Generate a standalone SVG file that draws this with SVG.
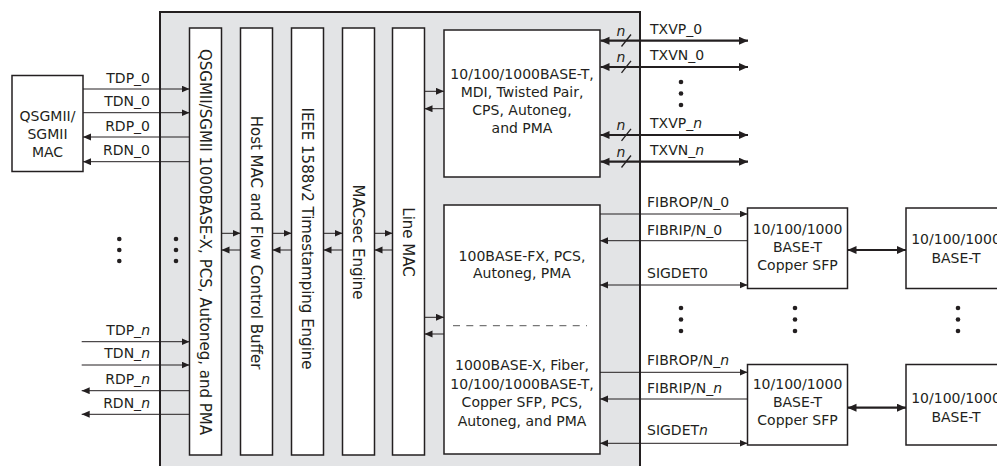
<svg xmlns="http://www.w3.org/2000/svg" width="997" height="466" viewBox="0 0 997 466">
<style>
text{font-family:"DejaVu Sans","Verdana",sans-serif;fill:#231f20;}
.t{font-size:14px;}
.c{font-size:14px;text-anchor:middle;}
.r{font-size:14px;text-anchor:end;}
.v{font-size:15px;text-anchor:middle;}
.box{fill:#fff;stroke:#231f20;stroke-width:1.5;}
.ln{fill:none;stroke:#231f20;stroke-width:1;}
.thk{fill:none;stroke:#231f20;stroke-width:2.2;}
.sl{fill:none;stroke:#231f20;stroke-width:1.3;}
.dot{fill:#231f20;}
.i{font-style:italic;}
</style>
<defs>
<marker id="a" markerUnits="userSpaceOnUse" markerWidth="9" markerHeight="8" refX="8" refY="3.5" orient="auto-start-reverse" viewBox="0 0 9 8">
<path d="M0,0 L8,3.5 L0,7 z" fill="#231f20"/>
</marker>
<marker id="b" markerUnits="userSpaceOnUse" markerWidth="10" markerHeight="9" refX="9" refY="4" orient="auto-start-reverse" viewBox="0 0 10 9">
<path d="M0,0 L9,4 L0,8 z" fill="#231f20"/>
</marker>
</defs>

<g id="phy-chip">
<rect x="160" y="12" width="480" height="470" fill="#e3e4e6" stroke="#231f20" stroke-width="2"/>
</g>

<g id="mac">
<rect class="box" x="12" y="75.5" width="71" height="96"/>
<text class="c" x="47.5" y="121">QSGMII/</text>
<text class="c" x="47.5" y="139">SGMII</text>
<text class="c" x="47.5" y="157">MAC</text>
</g>

<g id="serdes">
<rect class="box" x="189.5" y="28" width="32" height="427"/>
<text class="v" transform="translate(205.5,242) rotate(90)" x="0" y="5.4">QSGMII/SGMII 1000BASE-X, PCS, Autoneg, and PMA</text>
</g>
<g id="hostmac">
<rect class="box" x="240.5" y="28" width="32" height="427"/>
<text class="v" transform="translate(256.5,242.5) rotate(90)" x="0" y="5.4">Host MAC and Flow Control Buffer</text>
</g>
<g id="ieee1588">
<rect class="box" x="291.5" y="28" width="32" height="427"/>
<text class="v" transform="translate(307.5,238.5) rotate(90)" x="0" y="5.4">IEEE 1588v2 Timestamping Engine</text>
</g>
<g id="macsec">
<rect class="box" x="342.5" y="28" width="32" height="427"/>
<text class="v" transform="translate(358.5,242) rotate(90)" x="0" y="5.4">MACsec Engine</text>
</g>
<g id="linemac">
<rect class="box" x="392.5" y="28" width="32" height="427"/>
<text class="v" transform="translate(408.5,242) rotate(90)" x="0" y="5.4">Line MAC</text>
</g>

<g id="copper-phy">
<rect class="box" x="444" y="30" width="156" height="147"/>
<text class="c" x="522" y="79">10/100/1000BASE-T,</text>
<text class="c" x="522" y="97">MDI, Twisted Pair,</text>
<text class="c" x="522" y="115">CPS, Autoneg,</text>
<text class="c" x="522" y="133">and PMA</text>
</g>

<g id="fiber-phy">
<rect class="box" x="444" y="205" width="156" height="249"/>
<text class="c" x="522" y="261">100BASE-FX, PCS,</text>
<text class="c" x="522" y="278">Autoneg, PMA</text>
<line x1="453" y1="325.7" x2="587" y2="325.7" stroke="#777" stroke-width="1.2" stroke-dasharray="7,6.3"/>
<text class="c" x="522" y="370">1000BASE-X, Fiber,</text>
<text class="c" x="522" y="388.7">10/100/1000BASE-T,</text>
<text class="c" x="522" y="407.3">Copper SFP, PCS,</text>
<text class="c" x="522" y="426">Autoneg, and PMA</text>
</g>

<g id="sfp0">
<rect class="box" x="747.5" y="208" width="100" height="80.5"/>
<text class="c" x="797.5" y="234">10/100/1000</text>
<text class="c" x="797.5" y="252">BASE-T</text>
<text class="c" x="797.5" y="270">Copper SFP</text>
</g>
<g id="sfpn">
<rect class="box" x="747.5" y="364.5" width="100" height="80.5"/>
<text class="c" x="797.5" y="389">10/100/1000</text>
<text class="c" x="797.5" y="407">BASE-T</text>
<text class="c" x="797.5" y="425">Copper SFP</text>
</g>
<g id="baset0">
<rect class="box" x="906" y="208" width="100" height="80.5"/>
<text class="c" x="956" y="244.3">10/100/1000</text>
<text class="c" x="956" y="263.3">BASE-T</text>
</g>
<g id="basetn">
<rect class="box" x="906" y="364.5" width="100" height="80.5"/>
<text class="c" x="956" y="402.7">10/100/1000</text>
<text class="c" x="956" y="421.7">BASE-T</text>
</g>

<g id="connectors">
<!-- host side -->
<line class="ln" x1="83" y1="89" x2="189.5" y2="89" marker-end="url(#a)"/>
<line class="ln" x1="83" y1="112.7" x2="189.5" y2="112.7" marker-end="url(#a)"/>
<line class="ln" x1="189.5" y1="137" x2="83" y2="137" marker-end="url(#a)"/>
<line class="ln" x1="189.5" y1="161.7" x2="83" y2="161.7" marker-end="url(#a)"/>
<line class="ln" x1="81.7" y1="341.7" x2="189.5" y2="341.7" marker-end="url(#a)"/>
<line class="ln" x1="81.7" y1="365" x2="189.5" y2="365" marker-end="url(#a)"/>
<line class="ln" x1="189.5" y1="390.7" x2="81.7" y2="390.7" marker-end="url(#a)"/>
<line class="ln" x1="189.5" y1="414.3" x2="81.7" y2="414.3" marker-end="url(#a)"/>
<!-- between columns -->
<line class="ln" x1="221.5" y1="233.3" x2="240.5" y2="233.3" marker-end="url(#a)"/>
<line class="ln" x1="240.5" y1="250" x2="221.5" y2="250" marker-end="url(#a)"/>
<line class="ln" x1="272.5" y1="233.3" x2="291.5" y2="233.3" marker-end="url(#a)"/>
<line class="ln" x1="291.5" y1="250" x2="272.5" y2="250" marker-end="url(#a)"/>
<line class="ln" x1="323.5" y1="233.3" x2="342.5" y2="233.3" marker-end="url(#a)"/>
<line class="ln" x1="342.5" y1="250" x2="323.5" y2="250" marker-end="url(#a)"/>
<line class="ln" x1="374.5" y1="233.3" x2="392.5" y2="233.3" marker-end="url(#a)"/>
<line class="ln" x1="392.5" y1="250" x2="374.5" y2="250" marker-end="url(#a)"/>
<!-- line MAC to PHYs -->
<line class="ln" x1="424.5" y1="91.3" x2="444" y2="91.3" marker-end="url(#a)"/>
<line class="ln" x1="444" y1="108.7" x2="424.5" y2="108.7" marker-end="url(#a)"/>
<line class="ln" x1="424.5" y1="317.3" x2="444" y2="317.3" marker-end="url(#a)"/>
<line class="ln" x1="444" y1="334" x2="424.5" y2="334" marker-end="url(#a)"/>
<!-- copper media -->
<line class="thk" x1="600.5" y1="40.7" x2="748" y2="40.7" marker-start="url(#b)" marker-end="url(#b)"/>
<line class="thk" x1="600.5" y1="67" x2="748" y2="67" marker-start="url(#b)" marker-end="url(#b)"/>
<line class="thk" x1="600.5" y1="135" x2="748" y2="135" marker-start="url(#b)" marker-end="url(#b)"/>
<line class="thk" x1="600.5" y1="161.7" x2="748" y2="161.7" marker-start="url(#b)" marker-end="url(#b)"/>
<line class="sl" x1="621.5" y1="46.5" x2="631" y2="34.5"/>
<line class="sl" x1="621.5" y1="72.8" x2="631" y2="60.8"/>
<line class="sl" x1="621.5" y1="140.8" x2="631" y2="128.8"/>
<line class="sl" x1="621.5" y1="167.5" x2="631" y2="155.5"/>
<!-- fiber / SFP -->
<line class="ln" x1="600" y1="214" x2="747.5" y2="214" marker-end="url(#a)"/>
<line class="ln" x1="747.5" y1="240.7" x2="600" y2="240.7" marker-end="url(#a)"/>
<line class="ln" x1="600" y1="285" x2="747.5" y2="285" marker-start="url(#a)" marker-end="url(#a)"/>
<line class="ln" x1="600" y1="372.3" x2="747.5" y2="372.3" marker-end="url(#a)"/>
<line class="ln" x1="747.5" y1="399" x2="600" y2="399" marker-end="url(#a)"/>
<line class="ln" x1="600" y1="443.3" x2="747.5" y2="443.3" marker-start="url(#a)" marker-end="url(#a)"/>
<line class="thk" x1="847.5" y1="250" x2="906" y2="250" marker-start="url(#b)" marker-end="url(#b)"/>
<line class="thk" x1="847.5" y1="407.7" x2="906" y2="407.7" marker-start="url(#b)" marker-end="url(#b)"/>
</g>

<g id="labels">
<text class="r" x="150" y="82.5">TDP_0</text>
<text class="r" x="150" y="106">TDN_0</text>
<text class="r" x="150" y="130.5">RDP_0</text>
<text class="r" x="150" y="155">RDN_0</text>
<text class="r" x="150" y="335">TDP_<tspan class="i">n</tspan></text>
<text class="r" x="150" y="358.3">TDN_<tspan class="i">n</tspan></text>
<text class="r" x="150" y="384">RDP_<tspan class="i">n</tspan></text>
<text class="r" x="150" y="407.6">RDN_<tspan class="i">n</tspan></text>
<text class="c i" x="621" y="35.5">n</text>
<text class="c i" x="621" y="61.8">n</text>
<text class="c i" x="621" y="129.8">n</text>
<text class="c i" x="621" y="156.5">n</text>
<text class="t" x="650" y="33.5">TXVP_0</text>
<text class="t" x="650" y="60">TXVN_0</text>
<text class="t" x="650" y="128">TXVP_<tspan class="i">n</tspan></text>
<text class="t" x="650" y="154.7">TXVN_<tspan class="i">n</tspan></text>
<text class="t" x="647" y="207">FIBROP/N_0</text>
<text class="t" x="647" y="235">FIBRIP/N_0</text>
<text class="t" x="647" y="278.3">SIGDET0</text>
<text class="t" x="647" y="365">FIBROP/N_<tspan class="i">n</tspan></text>
<text class="t" x="647" y="392.7">FIBRIP/N_<tspan class="i">n</tspan></text>
<text class="t" x="647" y="435">SIGDET<tspan class="i">n</tspan></text>
</g>

<g id="ellipses">
<circle class="dot" cx="119.3" cy="239" r="2.3"/>
<circle class="dot" cx="119.3" cy="250" r="2.3"/>
<circle class="dot" cx="119.3" cy="261" r="2.3"/>
<circle class="dot" cx="176" cy="239" r="2.3"/>
<circle class="dot" cx="176" cy="250" r="2.3"/>
<circle class="dot" cx="176" cy="261" r="2.3"/>
<circle class="dot" cx="681" cy="82" r="2.3"/>
<circle class="dot" cx="681" cy="93.5" r="2.3"/>
<circle class="dot" cx="681" cy="105" r="2.3"/>
<circle class="dot" cx="681" cy="308" r="2.3"/>
<circle class="dot" cx="681" cy="319.5" r="2.3"/>
<circle class="dot" cx="681" cy="331" r="2.3"/>
<circle class="dot" cx="795" cy="308" r="2.3"/>
<circle class="dot" cx="795" cy="319.5" r="2.3"/>
<circle class="dot" cx="795" cy="331" r="2.3"/>
<circle class="dot" cx="958" cy="308" r="2.3"/>
<circle class="dot" cx="958" cy="319.5" r="2.3"/>
<circle class="dot" cx="958" cy="331" r="2.3"/>
</g>
</svg>
